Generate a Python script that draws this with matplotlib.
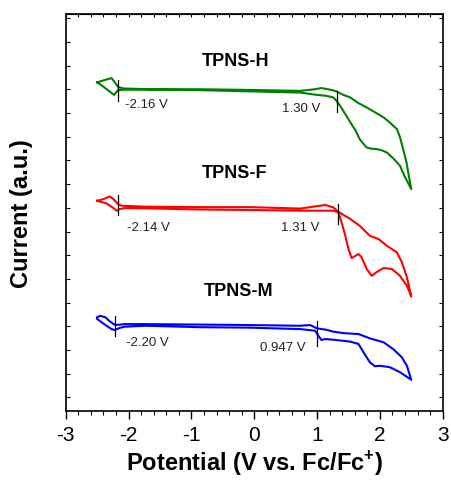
import matplotlib
matplotlib.use("Agg")
import matplotlib.pyplot as plt
from matplotlib.ticker import MultipleLocator

plt.rcParams['font.family'] = ['Liberation Sans', 'DejaVu Sans']
plt.rcParams['mathtext.fontset'] = 'custom'
plt.rcParams['mathtext.rm'] = 'Liberation Sans'
plt.rcParams['mathtext.bf'] = 'Liberation Sans:bold'

# ---- TPNS-H (green) ----
h_fwd_v = [-2.50, -2.39, -2.27, -2.22, -2.165, -2.07, -1.66, -0.86, -0.07, 0.73, 0.97, 1.07, 1.21, 1.31,
           1.41, 1.53, 1.65, 1.79, 1.92, 2.06, 2.16, 2.27, 2.32, 2.37, 2.42, 2.45, 2.50]
h_fwd_i = [13.30, 13.39, 13.48, 13.31, 13.10, 13.04, 13.01, 13.01, 12.98, 12.94, 13.01, 13.06, 12.99, 12.92,
           12.78, 12.66, 12.44, 12.24, 12.04, 11.82, 11.60, 11.33, 10.99, 10.48, 9.97, 9.51, 8.79]
h_rev_v = [2.50, 2.40, 2.32, 2.21, 2.11, 2.02, 1.95, 1.86, 1.79, 1.73, 1.68, 1.61, 1.53, 1.45, 1.37, 1.31,
           1.26, 1.15, 0.97, 0.73, 0.09, -0.07, -0.86, -1.66, -2.06, -2.17, -2.23, -2.33, -2.41, -2.50]
h_rev_i = [8.79, 9.30, 9.78, 10.10, 10.34, 10.44, 10.48, 10.50, 10.55, 10.73, 10.90, 11.28, 11.61, 11.96,
           12.30, 12.52, 12.66, 12.73, 12.78, 12.87, 12.91, 12.92, 12.97, 12.99, 12.99, 12.97, 12.77, 12.97,
           13.14, 13.30]

# ---- TPNS-F (red) ----
f_fwd_v = [-2.50, -2.40, -2.30, -2.24, -2.17, -2.11, -1.74, -0.86, -0.07, 0.73, 1.13, 1.26, 1.34, 1.53,
           1.68, 1.84, 1.98, 2.11, 2.27, 2.35, 2.43, 2.50]
f_fwd_i = [8.30, 8.37, 8.48, 8.37, 8.16, 8.09, 8.05, 8.03, 8.03, 7.97, 8.12, 8.02, 7.83, 7.53,
           7.24, 6.82, 6.68, 6.40, 6.12, 5.70, 5.07, 4.26]
f_rev_v = [2.50, 2.43, 2.32, 2.19, 2.06, 1.95, 1.87, 1.79, 1.71, 1.66, 1.61, 1.55, 1.50, 1.45, 1.39, 1.34,
           1.26, 0.73, -0.07, -0.86, -1.74, -2.06, -2.14, -2.19, -2.24, -2.35, -2.45, -2.50]
f_rev_i = [4.26, 4.71, 5.13, 5.42, 5.46, 5.29, 5.13, 5.42, 5.91, 6.05, 5.97, 5.88, 6.26, 6.82, 7.39, 7.81,
           7.88, 7.88, 7.91, 7.93, 7.98, 7.99, 7.95, 7.88, 7.99, 8.19, 8.26, 8.30]

# ---- TPNS-M (blue) ----
m_fwd_v = [-2.50, -2.45, -2.37, -2.30, -2.22, -2.16, -2.06, -1.74, -0.86, -0.07, 0.73, 0.89, 1.00, 1.15,
           1.26, 1.42, 1.66, 1.84, 2.06, 2.21, 2.35, 2.43, 2.50]
m_fwd_i = [3.38, 3.44, 3.38, 3.21, 3.06, 3.06, 3.09, 3.09, 3.07, 3.05, 3.02, 3.05, 2.91, 2.85,
           2.77, 2.71, 2.67, 2.49, 2.32, 2.04, 1.69, 1.33, 0.74]
m_rev_v = [2.50, 2.32, 2.16, 2.00, 1.92, 1.84, 1.74, 1.66, 1.53, 1.26, 1.13, 1.07, 1.02, 0.97, 0.73,
           -0.07, -0.86, -1.74, -2.06, -2.14, -2.22, -2.27, -2.35, -2.43, -2.50]
m_rev_i = [0.74, 1.06, 1.27, 1.33, 1.31, 1.48, 1.90, 2.25, 2.35, 2.43, 2.46, 2.42, 2.60, 2.81, 2.88,
           2.94, 2.96, 3.02, 2.98, 2.93, 2.84, 2.88, 3.02, 3.17, 3.31]

# onset markers: (V, i_top, i_bottom)
markers = {
    'H': [(-2.165, 13.38, 12.53), (1.31, 12.94, 12.06)],
    'F': [(-2.17, 8.55, 7.71), (1.33, 8.16, 7.32)],
    'M': [(-2.215, 3.44, 2.60), (1.00, 3.23, 2.18)],
}
# onset labels: (text, V, i)
onset_labels = [
    ('-2.16 V', -2.056, 12.38), ('1.30 V', 0.44, 12.20),
    ('-2.14 V', -2.03, 7.20), ('1.31 V', 0.42, 7.20),
    ('-2.20 V', -2.045, 2.32), ('0.947 V', 0.093, 2.11),
]
names = [('TPNS-H', -0.29, 14.21), ('TPNS-F', -0.31, 9.50), ('TPNS-M', -0.25, 4.50)]

xticks = [-3, -2, -1, 0, 1, 2, 3]

fig = plt.figure(figsize=(4.51, 4.85), dpi=100)
ax = fig.add_axes([0.1457, 0.1505, 0.9816 - 0.1457, 0.9697 - 0.1505])

lw = 1.5
ax.plot(h_fwd_v + h_rev_v, h_fwd_i + h_rev_i, color='#008000', lw=lw)
ax.plot(f_fwd_v + f_rev_v, f_fwd_i + f_rev_i, color='#ff0000', lw=lw)
ax.plot(m_fwd_v + m_rev_v, m_fwd_i + m_rev_i, color='#0000ff', lw=lw)

for k, lst in markers.items():
    for v, t, b in lst:
        ax.plot([v, v], [b, t], color='black', lw=0.9)

for txt, v, i in onset_labels:
    ax.text(v, i, txt, fontsize=9.5, ha='left', va='center', color='#222222')
for txt, v, i in names:
    ax.text(v, i, txt, fontsize=13, fontweight='bold', ha='center', va='center')

ax.set_xlim(-3, 3)
ax.set_ylim(-0.58, 16.2)
ax.set_xticks(xticks)
ax.set_xticklabels([str(t) for t in xticks])
ax.xaxis.set_minor_locator(MultipleLocator(0.2))
ax.yaxis.set_major_locator(MultipleLocator(1))
ax.set_yticklabels([])

ax.tick_params(axis='x', which='major', direction='out', length=6, width=1, labelsize=15, pad=4)
ax.tick_params(axis='x', which='minor', direction='out', length=3, width=0.8)
ax.tick_params(axis='y', which='major', direction='in', length=3, width=0.8, left=True, right=True)

top = ax.secondary_xaxis('top')
top.set_xticks(xticks)
top.set_xticklabels([])
top.xaxis.set_minor_locator(MultipleLocator(0.2))
top.tick_params(axis='x', which='both', direction='in', length=2.5, width=0.8)

for s in ax.spines.values():
    s.set_linewidth(1.2)

ax.set_xlabel(r'Potential (V vs. Fc/Fc$^{\mathbf{+}}$)', fontsize=17, fontweight='bold', labelpad=3)
ax.set_ylabel('Current (a.u.)', fontsize=17, fontweight='bold', labelpad=20)

fig.savefig('out.png', dpi=100)
